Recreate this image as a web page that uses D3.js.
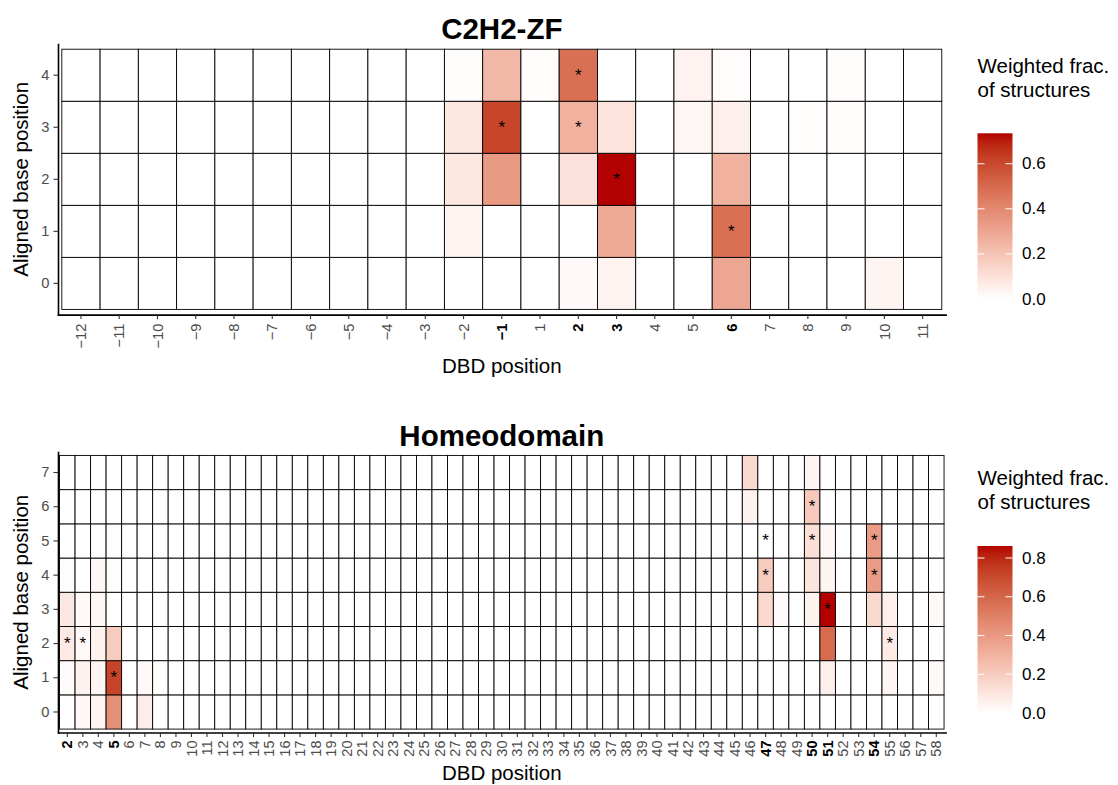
<!DOCTYPE html>
<html>
<head>
<meta charset="utf-8">
<script src="https://cdn.jsdelivr.net/npm/d3@7"></script>
<style>
  body { margin: 0; background: #fff; }
  svg { display: block; font-family: "Liberation Sans", Arial, Helvetica, sans-serif; }
</style>
</head>
<body>
<svg id="chart" width="1118" height="785"></svg>
<script>
// ---- C2H2-ZF panel ----
const zfPositions = [-12, -11, -10, -9, -8, -7, -6, -5, -4, -3, -2, -1, 1, 2, 3, 4, 5, 6, 7, 8, 9, 10, 11];
const zfBases = [0, 1, 2, 3, 4];
// [DBD position, aligned base, weighted fraction]; cells not listed are 0
const zfCells = [
  [-2, 4, 0.008], [-1, 4, 0.235], [1, 4, 0.01], [2, 4, 0.48], [5, 4, 0.04], [6, 4, 0.01], [9, 4, 0.008],
  [-2, 3, 0.08], [-1, 3, 0.61], [2, 3, 0.26], [3, 3, 0.09], [5, 3, 0.03], [6, 3, 0.05], [8, 3, 0.008], [9, 3, 0.01],
  [-2, 2, 0.08], [-1, 2, 0.34], [2, 2, 0.1], [3, 2, 0.735], [6, 2, 0.26],
  [-2, 1, 0.035], [3, 1, 0.29], [6, 1, 0.48],
  [2, 0, 0.015], [3, 0, 0.04], [6, 0, 0.3], [10, 0, 0.035]
];
const zfStars = [[-1, 3], [2, 4], [2, 3], [3, 2], [6, 1]];
const zfBoldPositions = [-1, 2, 3, 6];
const zfLegendBreaks = [0, 0.2, 0.4, 0.6];

// ---- Homeodomain panel ----
const hdPositions = [2, 3, 4, 5, 6, 7, 8, 9, 10, 11, 12, 13, 14, 15, 16, 17, 18, 19, 20, 21, 22, 23, 24, 25, 26, 27, 28, 29, 30,
  31, 32, 33, 34, 35, 36, 37, 38, 39, 40, 41, 42, 43, 44, 45, 46, 47, 48, 49, 50, 51, 52, 53, 54, 55, 56, 57, 58];
const hdBases = [0, 1, 2, 3, 4, 5, 6, 7];
const hdCells = [
  [2, 4, 0.01], [2, 3, 0.09], [2, 2, 0.08], [2, 1, 0.015],
  [3, 3, 0.02], [3, 2, 0.025], [3, 1, 0.05], [3, 0, 0.03],
  [4, 4, 0.03], [4, 3, 0.03], [4, 2, 0.05], [4, 1, 0.04], [4, 0, 0.04],
  [5, 5, 0.01], [5, 4, 0.01], [5, 2, 0.2], [5, 1, 0.72], [5, 0, 0.44],
  [7, 1, 0.02], [7, 0, 0.07],
  [46, 7, 0.15], [46, 6, 0.05],
  [47, 4, 0.2], [47, 3, 0.15],
  [48, 3, 0.02],
  [50, 7, 0.04], [50, 6, 0.21], [50, 5, 0.13], [50, 4, 0.1], [50, 3, 0.05],
  [51, 5, 0.03], [51, 4, 0.04], [51, 3, 0.862], [51, 2, 0.58], [51, 1, 0.06],
  [54, 5, 0.39], [54, 4, 0.39], [54, 3, 0.15],
  [55, 3, 0.06], [55, 2, 0.08], [55, 1, 0.04],
  [57, 5, 0.01],
  [58, 3, 0.02], [58, 1, 0.02]
];
const hdStars = [[2, 2], [3, 2], [5, 1], [47, 5], [47, 4], [50, 6], [50, 5], [51, 3], [54, 5], [54, 4], [55, 2]];
const hdBoldPositions = [2, 5, 47, 50, 51, 54];
const hdLegendBreaks = [0, 0.2, 0.4, 0.6, 0.8];

const svg = d3.select("#chart");
const defs = svg.append("defs");
const fmt = d3.format("d");

function drawHeatmap(cfg) {
  const g = svg.append("g");
  const { panel } = cfg;

  const x = d3.scaleBand().domain(cfg.positions).range([panel.x0, panel.x1])
    .paddingInner(0).paddingOuter(0.1);
  const y = d3.scaleBand().domain(cfg.bases.slice().reverse()).range([panel.y0, panel.y1])
    .paddingInner(0).paddingOuter(0.1);

  const lookup = new Map(cfg.cells.map(d => [d[0] + "|" + d[1], d[2]]));
  const maxVal = d3.max(cfg.cells, d => d[2]);
  const color = d3.scaleLinear().domain([0, maxVal]).range(["#ffffff", "#b30000"])
    .interpolate(d3.interpolateLab);

  const grid = [];
  cfg.bases.forEach(b => cfg.positions.forEach(p => {
    grid.push({ p, b, v: lookup.get(p + "|" + b) || 0 });
  }));

  // tiles
  g.append("g").selectAll("rect").data(grid).join("rect")
    .attr("x", d => x(d.p)).attr("y", d => y(d.b))
    .attr("width", x.bandwidth()).attr("height", y.bandwidth())
    .attr("fill", d => color(d.v))
    .attr("stroke", "#000").attr("stroke-width", 0.9);

  // significance marks
  g.append("g").selectAll("text").data(cfg.stars).join("text")
    .attr("x", d => x(d[0]) + x.bandwidth() / 2)
    .attr("y", d => y(d[1]) + y.bandwidth() / 2)
    .attr("text-anchor", "middle").attr("dominant-baseline", "central")
    .attr("font-size", 17).attr("fill", "#000")
    .text("*");

  // x axis
  const xAxis = g.append("g").attr("transform", `translate(0,${panel.y1})`)
    .call(d3.axisBottom(x).tickSize(4.5).tickSizeOuter(0).tickFormat(fmt));
  xAxis.select(".domain").attr("stroke", "#000").attr("stroke-width", 1.6)
    .attr("stroke-linecap", "square");
  xAxis.selectAll(".tick line").attr("stroke", "#333").attr("stroke-width", 1.1);
  xAxis.selectAll(".tick text")
    .attr("transform", "rotate(-90)")
    .attr("x", -cfg.xLabelOffset).attr("y", 0).attr("dy", "0.35em")
    .attr("text-anchor", "end")
    .attr("font-size", cfg.xTickFont)
    .attr("font-weight", d => cfg.bold.includes(d) ? "bold" : "normal")
    .attr("fill", d => cfg.bold.includes(d) ? "#000" : "#4d4d4d");

  // y axis
  const yAxis = g.append("g").attr("transform", `translate(${panel.x0},0)`)
    .call(d3.axisLeft(y).tickSize(4.5).tickSizeOuter(0).tickPadding(4).tickFormat(fmt));
  yAxis.select(".domain").attr("stroke", "#000").attr("stroke-width", 1.6)
    .attr("stroke-linecap", "square");
  yAxis.selectAll(".tick line").attr("stroke", "#333").attr("stroke-width", 1.1);
  yAxis.selectAll(".tick text").attr("font-size", 14.7).attr("fill", "#4d4d4d");

  const cx = (panel.x0 + panel.x1) / 2;
  const cy = (panel.y0 + panel.y1) / 2;

  // titles
  g.append("text").attr("x", cx).attr("y", cfg.titleY)
    .attr("text-anchor", "middle").attr("font-size", 29.5).attr("font-weight", "bold")
    .attr("fill", "#000").text(cfg.title);
  g.append("text").attr("x", cx).attr("y", cfg.xTitleY)
    .attr("text-anchor", "middle").attr("font-size", 20.5).attr("fill", "#000")
    .text("DBD position");
  g.append("text").attr("transform", `translate(27.5,${cy}) rotate(-90)`)
    .attr("text-anchor", "middle").attr("font-size", 20.5).attr("fill", "#000")
    .text("Aligned base position");

  // colour bar legend
  const lg = cfg.legend;
  const gradId = "grad-" + cfg.id;
  const grad = defs.append("linearGradient").attr("id", gradId)
    .attr("x1", 0).attr("y1", 1).attr("x2", 0).attr("y2", 0);
  d3.range(0, 1.0001, 0.05).forEach(t => {
    grad.append("stop").attr("offset", t).attr("stop-color", color(t * maxVal));
  });
  const ly = d3.scaleLinear().domain([0, maxVal]).range([lg.bottom, lg.top]);

  g.append("text").attr("x", lg.x).attr("y", lg.titleY)
    .attr("font-size", 20.5).attr("fill", "#000")
    .selectAll("tspan").data(["Weighted frac.", "of structures"]).join("tspan")
    .attr("x", lg.x).attr("dy", (d, i) => i === 0 ? 0 : 24).text(d => d);

  g.append("rect").attr("x", lg.x).attr("y", lg.top)
    .attr("width", lg.w).attr("height", lg.bottom - lg.top)
    .attr("fill", `url(#${gradId})`);

  const tickLen = lg.w / 5;
  const lt = g.append("g");
  lt.selectAll("line.l").data(cfg.breaks).join("line").attr("class", "l")
    .attr("x1", lg.x).attr("x2", lg.x + tickLen)
    .attr("y1", d => ly(d)).attr("y2", d => ly(d))
    .attr("stroke", "#fff").attr("stroke-width", 1);
  lt.selectAll("line.r").data(cfg.breaks).join("line").attr("class", "r")
    .attr("x1", lg.x + lg.w - tickLen).attr("x2", lg.x + lg.w)
    .attr("y1", d => ly(d)).attr("y2", d => ly(d))
    .attr("stroke", "#fff").attr("stroke-width", 1);
  lt.selectAll("text").data(cfg.breaks).join("text")
    .attr("x", lg.x + lg.w + 9.5).attr("y", d => ly(d))
    .attr("dominant-baseline", "central").attr("font-size", 17).attr("fill", "#000")
    .text(d3.format(".1f"));
}

drawHeatmap({
  id: "zf",
  title: "C2H2-ZF",
  positions: zfPositions, bases: zfBases, cells: zfCells,
  stars: zfStars, bold: zfBoldPositions, breaks: zfLegendBreaks,
  panel: { x0: 58, x1: 945.6, y0: 44, y1: 314.6 },
  xTickFont: 14.7, xLabelOffset: 9,
  titleY: 39, xTitleY: 373,
  legend: { x: 977.5, w: 35, top: 133.3, bottom: 299, titleY: 73 }
});

drawHeatmap({
  id: "hd",
  title: "Homeodomain",
  positions: hdPositions, bases: hdBases, cells: hdCells,
  stars: hdStars, bold: hdBoldPositions, breaks: hdLegendBreaks,
  panel: { x0: 58, x1: 945.6, y0: 452, y1: 732.5 },
  xTickFont: 14.5, xLabelOffset: 8,
  titleY: 446, xTitleY: 780,
  legend: { x: 977.5, w: 35, top: 546, bottom: 713, titleY: 485 }
});
</script>
</body>
</html>
